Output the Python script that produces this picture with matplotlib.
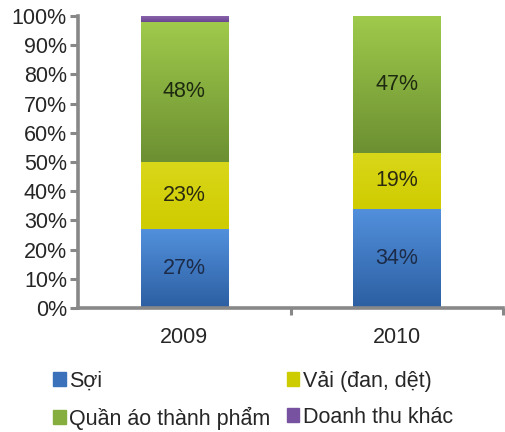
import matplotlib.pyplot as plt
import matplotlib.patches as patches
import matplotlib.colors as mcolors
import numpy as np

plt.rcParams['font.family'] = ['Liberation Sans', 'DejaVu Sans']

years = ['2009', '2010']
series_names = ['Sợi', 'Vải (đan, dệt)', 'Quần áo thành phẩm', 'Doanh thu khác']
soi = [27, 34]
vai = [23, 19]
quan_ao = [48, 47]
khac = [2, 0]

# top / bottom colours of each segment (vertical gradient like Excel 2007)
grad = {
    'Sợi': ('#5290dc', '#2c5fa2'),
    'Vải (đan, dệt)': ('#d9d71a', '#cfcc00'),
    'Quần áo thành phẩm': ('#9fca4b', '#6c9032'),
    'Doanh thu khác': ('#8a63ad', '#6a4590'),
}
legend_colors = ['#3b70bb', '#cccc00', '#86ae3e', '#7652a0']
label_colors = ['#1c2b48', '#2a2a10', '#1e2a10', '#222222']

fig = plt.figure(figsize=(5.05, 4.32), dpi=100, facecolor='white')
ax = fig.add_axes([0.1545, 0.287, 0.8415, 0.676])

x = np.arange(len(years))
width = 0.41
bottom = np.zeros(len(years))
for name, vals, tcol in zip(series_names, [soi, vai, quan_ao, khac], label_colors):
    vals = np.array(vals, dtype=float)
    bars = ax.bar(x, vals, width, bottom=bottom, color=grad[name][1], linewidth=0, zorder=2)
    cmap = mcolors.LinearSegmentedColormap.from_list(name, [grad[name][1], grad[name][0]])
    for b, v in zip(bars, vals):
        if v <= 0:
            continue
        x0, y0, w, h = b.get_x(), b.get_y(), b.get_width(), b.get_height()
        img = ax.imshow(np.linspace(0, 1, 64).reshape(-1, 1), cmap=cmap, origin='lower',
                        extent=(x0, x0 + w, y0, y0 + h), aspect='auto', zorder=3)
        img.set_clip_path(b)
        if v >= 5:
            ax.text(x0 + w / 2, y0 + h / 2, f'{int(v)}%', ha='center', va='center',
                    fontsize=15.5, color=tcol, zorder=4)
    bottom += vals

ax.set_xlim(-0.5, 1.5)
ax.set_ylim(0, 100)
ax.set_yticks(np.arange(0, 101, 10))
ax.set_yticklabels([f'{v}%' for v in range(0, 101, 10)])
ax.set_xticks(x)
ax.set_xticklabels(years)
ax.set_xticks([0.5, 1.5], minor=True)

for s in ['top', 'right']:
    ax.spines[s].set_visible(False)
for s in ['left', 'bottom']:
    ax.spines[s].set_color('#888888')
    ax.spines[s].set_linewidth(2.6)
ax.spines['bottom'].set_zorder(5)

ax.tick_params(axis='y', direction='out', length=6, width=2.2, color='#888888',
               labelsize=15.5, labelcolor='#262626', pad=2)
ax.tick_params(axis='x', which='major', length=0, labelsize=15.5, labelcolor='#262626', pad=14)
ax.tick_params(axis='x', which='minor', direction='out', length=5, width=2.2, color='#888888')

handles = [patches.Rectangle((0, 0), 1, 1, color=c) for c in legend_colors]
order = [0, 2, 1, 3]
fig.legend([handles[i] for i in order], [series_names[i] for i in order],
           ncol=2, loc='upper left', bbox_to_anchor=(0.105, 0.142), frameon=False,
           handlelength=0.6, handleheight=0.6, handletextpad=0.15, columnspacing=0.75,
           labelspacing=0.7, fontsize=15.5, labelcolor='#262626', borderpad=0, borderaxespad=0)

fig.savefig('out.png', dpi=100, facecolor='white')
